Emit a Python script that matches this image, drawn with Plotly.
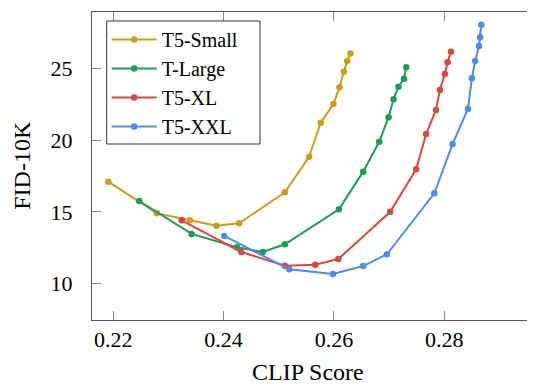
import plotly.graph_objects as go

# ---- data ----
series_names = ["T5-Small", "T-Large", "T5-XL", "T5-XXL"]

small_clip = [0.2191, 0.2279, 0.2339, 0.2387, 0.2428, 0.2511, 0.2555, 0.2576, 0.2599, 0.2610, 0.2618, 0.2624, 0.2630]
small_fid = [17.11, 14.90, 14.41, 14.04, 14.20, 16.37, 18.85, 21.23, 22.53, 23.70, 24.79, 25.54, 26.07]

large_clip = [0.2247, 0.2342, 0.2424, 0.2471, 0.2511, 0.2609, 0.2653, 0.2682, 0.2699, 0.2708, 0.2717, 0.2727, 0.2731]
large_fid = [15.76, 13.46, 12.53, 12.20, 12.74, 15.18, 17.81, 19.90, 21.61, 22.86, 23.74, 24.30, 25.10]

xl_clip = [0.2324, 0.2432, 0.2511, 0.2566, 0.2608, 0.2702, 0.2749, 0.2767, 0.2785, 0.2792, 0.2801, 0.2806, 0.2812]
xl_fid = [14.41, 12.20, 11.24, 11.31, 11.71, 15.01, 17.97, 20.44, 22.12, 23.51, 24.63, 25.45, 26.19]

xxl_clip = [0.2401, 0.2519, 0.2598, 0.2653, 0.2696, 0.2782, 0.2815, 0.2843, 0.2850, 0.2856, 0.2863, 0.2865, 0.2867]
xxl_fid = [13.32, 10.99, 10.66, 11.22, 12.04, 16.30, 19.74, 22.21, 24.33, 25.54, 26.58, 27.19, 28.07]

x_ticks = [0.22, 0.24, 0.26, 0.28]
x_tick_labels = ["0.22", "0.24", "0.26", "0.28"]
y_ticks = [10, 15, 20, 25]
y_tick_labels = ["10", "15", "20", "25"]

colors = ["#C99E1A", "#1E9A5B", "#DA4840", "#4D8BEE"]

FONT = "Liberation Serif"

fig = go.Figure()
for name, xs, ys, c in zip(
    series_names,
    [small_clip, large_clip, xl_clip, xxl_clip],
    [small_fid, large_fid, xl_fid, xxl_fid],
    colors,
):
    fig.add_trace(go.Scatter(
        x=xs, y=ys, name=name, mode="lines+markers",
        line=dict(color=c, width=2),
        marker=dict(color=c, size=6.5),
    ))

axis_common = dict(
    showgrid=False, zeroline=False,
    showline=True, linecolor="#555555", linewidth=1,
    ticks="inside", ticklen=9, tickcolor="#888888", tickwidth=1,
    mirror="ticks",
    tickfont=dict(family=FONT, size=22, color="black"),
)

fig.update_layout(
    width=535, height=385,
    font=dict(family=FONT, size=21, color="black"),
    margin=dict(l=84, r=5, t=4, b=73),
    paper_bgcolor="white", plot_bgcolor="white",
    showlegend=True,
    legend=dict(
        x=0.033, y=0.974, xanchor="left", yanchor="top",
        bgcolor="rgba(0,0,0,0)", borderwidth=0,
        font=dict(family=FONT, size=20, color="black"),
        tracegroupgap=0, itemwidth=45,
    ),
    # legend frame (white box with dark border, drawn above the data)
    shapes=[dict(type="rect", xref="paper", yref="paper",
                 x0=0.033, x1=0.3767, y0=0.5714, y1=0.9708,
                 layer="above", fillcolor="white",
                 line=dict(color="#333333", width=1))],
    xaxis=dict(range=[0.21614, 0.29699], tickvals=x_ticks, ticktext=x_tick_labels,
               ticklabelstandoff=0, **axis_common),
    yaxis=dict(range=[7.451, 28.96], tickvals=y_ticks, ticktext=y_tick_labels,
               ticklabelstandoff=14, **axis_common),
    annotations=[
        dict(text="CLIP Score", xref="paper", yref="paper", x=0.4832, y=-0.1688,
             xanchor="center", yanchor="middle", showarrow=False,
             font=dict(family=FONT, size=24, color="black")),
        dict(text="FID-10K", xref="paper", yref="paper", x=-0.1576, y=0.5032,
             xanchor="center", yanchor="middle", showarrow=False, textangle=-90,
             font=dict(family=FONT, size=24, color="black")),
    ],
)

fig.write_html("out.html")
